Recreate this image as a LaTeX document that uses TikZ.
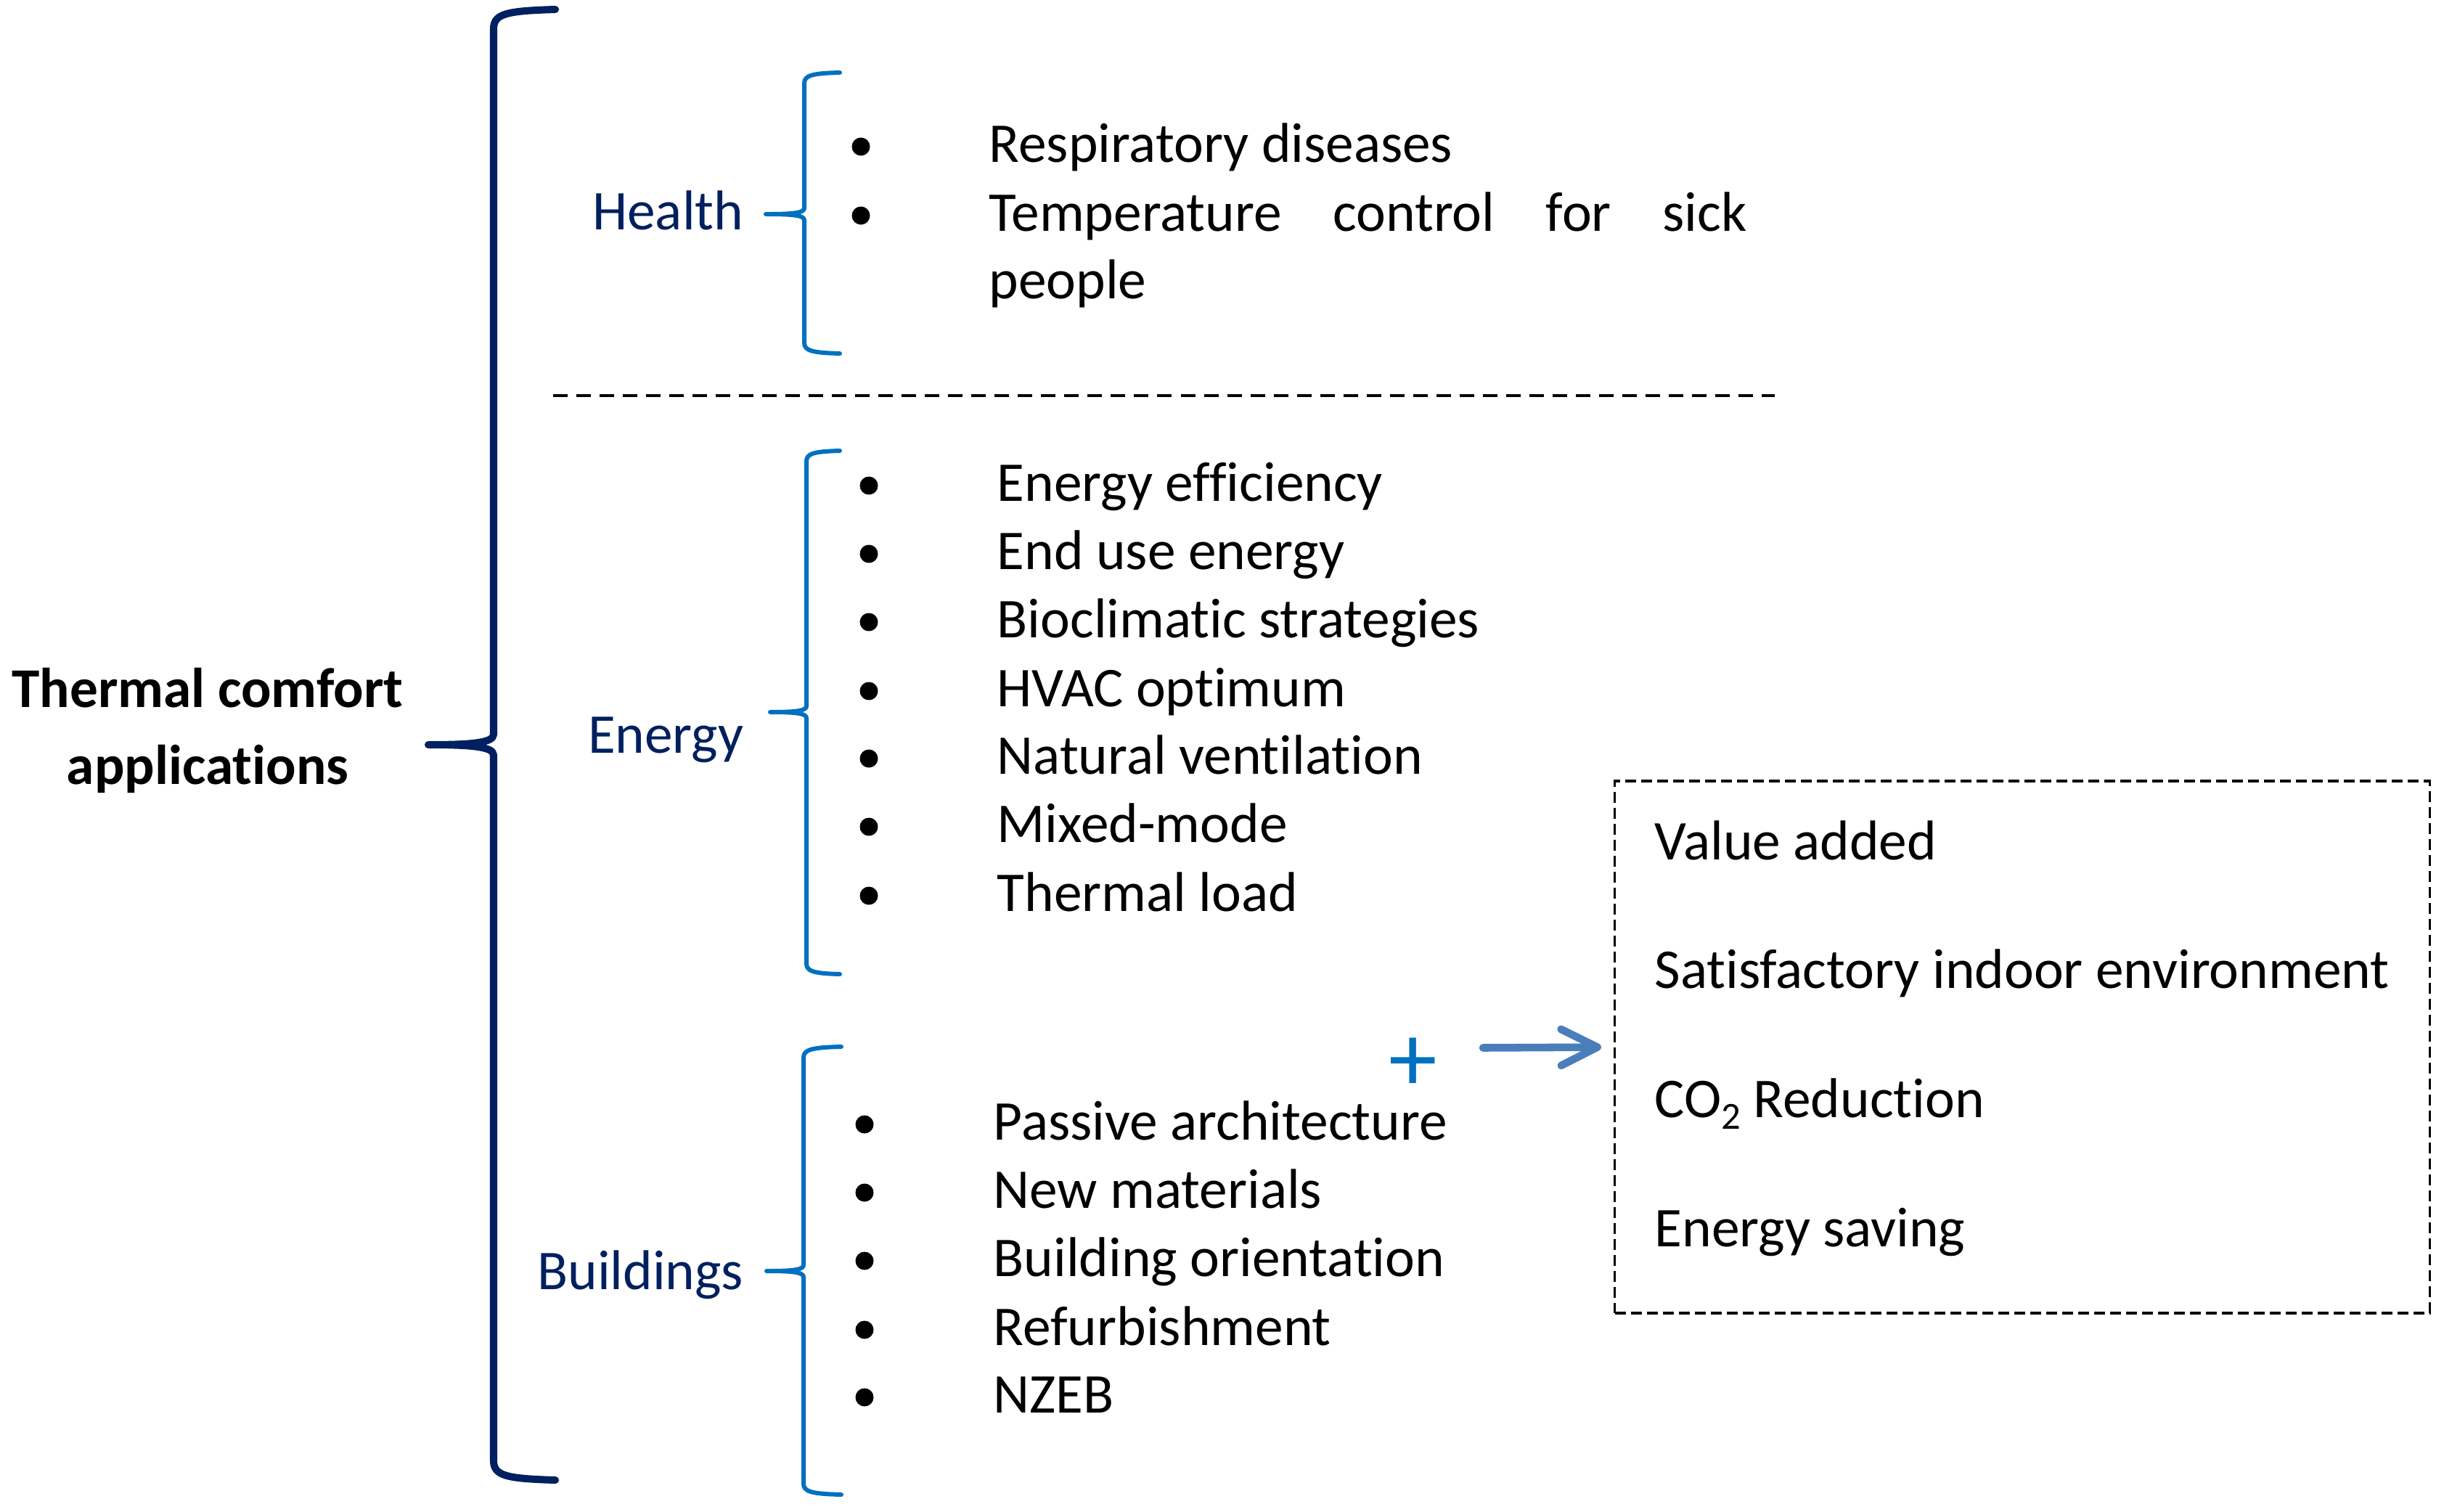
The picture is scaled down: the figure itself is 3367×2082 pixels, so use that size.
\documentclass[tikz,border=0pt]{standalone}
\usepackage{fontspec}
\setmainfont{Carlito}[Ligatures=NoCommon]
\usepackage{tikz}
\usetikzlibrary{arrows.meta,positioning}

\definecolor{navy}{HTML}{00205F}
\definecolor{lightblue}{HTML}{0070C0}
\definecolor{steelblue}{HTML}{4A7EBB}

\newcommand{\bodyfont}{\fontsize{22}{26.5}\selectfont}

\tikzset{
  itemtext/.style={anchor=base west, inner sep=0pt, font=\bodyfont},
  cattext/.style={anchor=base east, inner sep=0pt, text=navy, font=\bodyfont},
  dot/.style={circle, fill=black, minimum size=0.25cm, inner sep=0pt},
  bigbrace/.style={draw=navy, line width=2.85pt, line cap=round, line join=round},
  subbrace/.style={draw=lightblue, line width=1.7pt, line cap=round, line join=round},
  sepline/.style={draw=black, line width=1.1pt, dash pattern=on 0.2cm off 0.12cm},
  gainbox/.style={draw=black, line width=1pt, dash pattern=on 0.15cm off 0.07cm,
    minimum width=11.22cm, minimum height=7.33cm, inner sep=0pt},
  gainarrow/.style={draw=steelblue, line width=3pt, line cap=round,
    -{Straight Barb[length=0.5cm, width=0.5cm, round]}}
}

\begin{document}
\begin{tikzpicture}[x=0.01cm,y=-0.01cm]
  \useasboundingbox (0,0) rectangle (3367,2082);

  % title
  \node[anchor=base, inner sep=0pt, font=\bodyfont\bfseries] (title) at (286,974)
    {\parbox[t]{6cm}{\centering\fontsize{22}{30.4}\selectfont Thermal comfort\\applications}};

  % main brace
  \draw[bigbrace] (765,13) .. controls (697,15) and (680,19) .. (680,40) -- (680,1012)
    .. controls (680,1024) and (644,1026) .. (590,1026)
    .. controls (644,1026) and (680,1028) .. (680,1040) -- (680,2012)
    .. controls (680,2033) and (697,2037) .. (765,2039);

  % categories
  \node[cattext] (health) at (1025,316) {Health};
  \node[cattext] (energy) at (1025,1037) {Energy};
  \node[cattext] (buildings) at (1025,1776) {Buildings};

  \draw[subbrace] (1157,100) .. controls (1118,101) and (1108,104) .. (1108,115) -- (1108,287)
    .. controls (1108,294) and (1087,295) .. (1055,295)
    .. controls (1087,295) and (1108,296) .. (1108,303) -- (1108,472)
    .. controls (1108,483) and (1118,486) .. (1157,487);
  \draw[subbrace] (1157,621) .. controls (1120,622) and (1111,625) .. (1111,636) -- (1111,973)
    .. controls (1111,980) and (1091,981) .. (1061,981)
    .. controls (1091,981) and (1111,982) .. (1111,989) -- (1111,1327)
    .. controls (1111,1338) and (1120,1341) .. (1157,1342);
  \draw[subbrace] (1159,1442) .. controls (1118,1443) and (1107,1446) .. (1107,1457) -- (1107,1743)
    .. controls (1107,1750) and (1087,1751) .. (1056,1751)
    .. controls (1087,1751) and (1107,1752) .. (1107,1759) -- (1107,2044)
    .. controls (1107,2055) and (1118,2058) .. (1159,2059);

  % health items
  \node[dot] (hd1) at (1186,202) {};
  \node[dot] (hd2) at (1186,297) {};
  \node[itemtext] (h1) at (1362,223) {Respiratory diseases};
  \node[itemtext] (h2) at (1362,318)
    {\parbox[t]{10.43cm}{\makebox[\linewidth][s]{Temperature control for sick}\\people}};

  \draw[sepline] (762,545) -- (2445,545);

  % energy items
  \node[dot] (ed1) at (1197,669) {};
  \node[dot] (ed2) at (1197,763) {};
  \node[dot] (ed3) at (1197,857) {};
  \node[dot] (ed4) at (1197,952) {};
  \node[dot] (ed5) at (1197,1045) {};
  \node[dot] (ed6) at (1197,1139) {};
  \node[dot] (ed7) at (1197,1234) {};
  \node[itemtext] (e1) at (1373,690) {Energy efficiency};
  \node[itemtext] (e2) at (1373,784) {End use energy};
  \node[itemtext] (e3) at (1373,878) {Bioclimatic strategies};
  \node[itemtext] (e4) at (1373,973) {HVAC optimum};
  \node[itemtext] (e5) at (1373,1066) {Natural ventilation};
  \node[itemtext] (e6) at (1373,1160) {Mixed-mode};
  \node[itemtext] (e7) at (1373,1255) {Thermal load};

  % buildings items
  \node[dot] (bd1) at (1191,1549) {};
  \node[dot] (bd2) at (1191,1643) {};
  \node[dot] (bd3) at (1191,1737) {};
  \node[dot] (bd4) at (1191,1832) {};
  \node[dot] (bd5) at (1191,1925) {};
  \node[itemtext] (b1) at (1368,1570) {Passive architecture};
  \node[itemtext] (b2) at (1368,1664) {New materials};
  \node[itemtext] (b3) at (1368,1758) {Building orientation};
  \node[itemtext] (b4) at (1368,1853) {Refurbishment};
  \node[itemtext] (b5) at (1368,1946) {NZEB};

  % gains
  \node[inner sep=0pt, text=lightblue, font=\fontsize{38}{38}\selectfont] (plus) at (1947,1467) {+};
  \node[gainbox] (gains) at (2786,1442.5) {};
  \coordinate (arrowtail) at (2043,1443.5);
  \draw[gainarrow, shorten >=0.17cm] (arrowtail) -- (gains.west);

  \node[itemtext] (g1) at (2279,1184) {Value added};
  \node[itemtext] (g2) at (2279,1361) {Satisfactory indoor environment};
  \node[itemtext] (g3) at (2279,1539) {CO\raisebox{-0.16cm}{\fontsize{15}{15}\selectfont 2} Reduction};
  \node[itemtext] (g4) at (2279,1717) {Energy saving};
\end{tikzpicture}
\end{document}
